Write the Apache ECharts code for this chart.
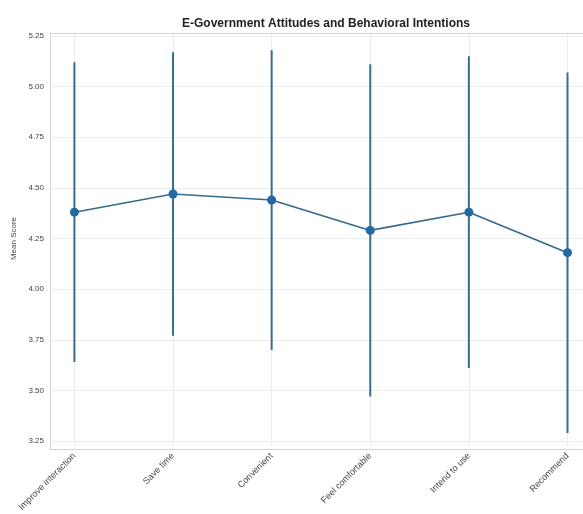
<!DOCTYPE html>
<html>
<head>
<meta charset="utf-8">
<script src="https://cdn.jsdelivr.net/npm/echarts@6/dist/echarts.min.js"></script>
<style>
  html, body { margin: 0; padding: 0; background: #ffffff; }
  #chart { width: 583px; height: 514px; }
</style>
</head>
<body>
<div id="chart"></div>
<script>
// Survey items and their mean scores with standard deviations
const categories = ['Improve interaction', 'Save time', 'Convenient', 'Feel comfortable', 'Intend to use', 'Recommend'];
const meanScores = [4.38, 4.47, 4.44, 4.29, 4.38, 4.18];
const stdDevs = [0.74, 0.70, 0.74, 0.82, 0.77, 0.89];
const yTicks = [3.25, 3.50, 3.75, 4.00, 4.25, 4.50, 4.75, 5.00, 5.25];

const markerColor = '#2069a3';
const lineColor = '#366a8c';
const barColor = '#3a6d8b';
const gridColor = '#ececec';
const frameColor = '#d4d4d4';
const textColor = '#444444';

const errorData = categories.map((c, i) => [i, meanScores[i] - stdDevs[i], meanScores[i] + stdDevs[i]]);

// plain axis line used for the plot frame (the right side runs off the canvas)
const frameAxis = (extra) => Object.assign({
  type: 'value', min: 0, max: 1,
  axisLine: { show: true, lineStyle: { color: frameColor, width: 1 } },
  axisTick: { show: false }, axisLabel: { show: false }, splitLine: { show: false }
}, extra);

const chart = echarts.init(document.getElementById('chart'));
chart.setOption({
  animation: false,
  backgroundColor: '#ffffff',
  title: {
    text: 'E-Government Attitudes and Behavioral Intentions',
    left: 321, top: 13, textAlign: 'center',
    textStyle: { fontFamily: 'Liberation Sans', fontSize: 12, fontWeight: 'bold', color: '#222222' }
  },
  grid: [
    // outer frame
    { left: 50, right: 0, top: 33, bottom: 65 },
    // horizontal grid + y labels
    { left: 50, right: 0, top: 36, bottom: 73 },
    // category axis + vertical grid
    { left: 74.4, right: 15.5, top: 33, bottom: 65 },
    // data
    { left: 74.4, right: 15.5, top: 36, bottom: 73 }
  ],
  xAxis: [
    frameAxis({ gridIndex: 0, position: 'bottom' }),
    frameAxis({ gridIndex: 0, position: 'top' }),
    { gridIndex: 1, type: 'value', show: false, min: 0, max: 1 },
    {
      gridIndex: 2, type: 'category', data: categories, boundaryGap: false,
      axisLine: { show: false }, axisTick: { show: false },
      axisLabel: { rotate: 45, margin: 9, fontFamily: 'Liberation Sans', fontSize: 9, color: textColor, interval: 0 },
      splitLine: { show: true, lineStyle: { color: gridColor, width: 1 } }
    },
    { gridIndex: 3, type: 'category', data: categories, boundaryGap: false, show: false }
  ],
  yAxis: [
    frameAxis({ gridIndex: 0, position: 'left' }),
    {
      gridIndex: 1, type: 'value', min: 3.25, max: 5.25, interval: 0.25,
      name: 'Mean Score', nameLocation: 'middle', nameGap: 30,
      nameTextStyle: { fontFamily: 'Liberation Sans', fontSize: 8, color: textColor },
      axisLine: { show: false }, axisTick: { show: false },
      axisLabel: { margin: 6, fontFamily: 'Liberation Sans', fontSize: 8, color: textColor, formatter: v => v.toFixed(2) },
      splitLine: { show: true, lineStyle: { color: gridColor, width: 1 } }
    },
    { gridIndex: 2, type: 'value', show: false, min: 0, max: 1, splitLine: { show: false } },
    { gridIndex: 3, type: 'value', show: false, min: 3.25, max: 5.25, splitLine: { show: false } }
  ],
  series: [
    {
      type: 'custom', xAxisIndex: 4, yAxisIndex: 3,
      data: errorData,
      encode: { x: 0, y: [1, 2] },
      renderItem: function (params, api) {
        const lo = api.coord([api.value(0), api.value(1)]);
        const hi = api.coord([api.value(0), api.value(2)]);
        return {
          type: 'line',
          shape: { x1: lo[0], y1: lo[1], x2: hi[0], y2: hi[1] },
          style: { stroke: barColor, lineWidth: 2 }
        };
      },
      z: 2
    },
    {
      type: 'line', xAxisIndex: 4, yAxisIndex: 3,
      data: meanScores,
      symbol: 'circle', symbolSize: 9,
      lineStyle: { color: lineColor, width: 1.6 },
      itemStyle: { color: markerColor },
      z: 3
    }
  ]
});
</script>
</body>
</html>
